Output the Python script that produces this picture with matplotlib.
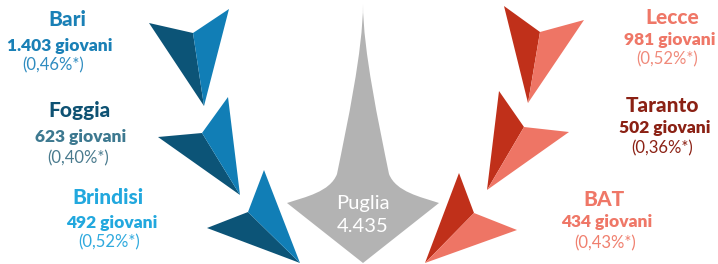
import numpy as np
import matplotlib
matplotlib.use('Agg')
import matplotlib.pyplot as plt
from matplotlib.patches import Polygon, PathPatch
from matplotlib.path import Path

# data
provinces = ['Bari', 'Foggia', 'Brindisi', 'Lecce', 'Taranto', 'BAT']
giovani = [1403, 623, 492, 981, 502, 434]
quota = [0.46, 0.40, 0.52, 0.52, 0.36, 0.43]
region = 'Puglia'
region_total = 4435

def it_int(n):
    return '{:,}'.format(n).replace(',', '.')

def it_pct(p):
    return '({:.2f}%*)'.format(p).replace('.', ',')

# layout (pixel coords, y down)
title_col = ['#1a80b6', '#0e5273', '#22a8de', '#ef7767', '#8b2114', '#ef7767']
count_col = ['#1a80b6', '#3d7990', '#22a8de', '#ef7767', '#8b2114', '#ef7767']
pct_col = ['#2f8cc0', '#4a7b8e', '#30aade', '#f08a7b', '#8b2114', '#f0806f']
title_xy = [(67, 20), (79, 111), (108, 198), (672, 18), (662, 106), (604, 200)]
count_xy = [(60, 46), (81, 137), (112, 223), (670, 40), (665, 128), (607, 222)]
pct_xy = [(53, 65), (78, 158), (109, 242), (667, 59), (662, 148), (605, 243)]

# arrows: outer tip A, inner vertex V, tip B, point tip P ; dark face A-V-P, light face V-B-P
arrows = [
    [(149, 23), (193, 33), (229, 9), (204, 106)],
    [(158, 137), (202, 133), (228, 97), (240, 195)],
    [(207, 228), (248, 212), (264, 170), (300, 263)],
    [(504, 6), (540, 32), (584, 20), (528, 103)],
    [(499, 91), (524, 127), (569, 132), (487, 190)],
    [(459, 173), (474, 213), (517, 230), (425, 263)],
]
dark = ['#0c5477', '#0c5477', '#0c5477', '#c0301a', '#c0301a', '#c0301a']
light = ['#117eb6', '#117eb6', '#117eb6', '#ee7565', '#ee7565', '#ee7565']

fig = plt.figure(figsize=(7.18, 2.64), dpi=100)
ax = fig.add_axes([0, 0, 1, 1])
ax.set_xlim(0, 718)
ax.set_ylim(264, 0)
ax.axis('off')

for i in range(len(arrows)):
    A, V, B, P = arrows[i]
    ax.add_patch(Polygon([A, V, P], closed=True, facecolor=dark[i], edgecolor='none'))
    ax.add_patch(Polygon([V, B, P], closed=True, facecolor=light[i], edgecolor='none'))

# central grey arrow
cx = 363
left = [(363, 4), (363, 50), (347, 125), (337, 174), (330, 192), (305, 197), (287, 203)]
verts = left + [(363, 263)]
codes = [Path.MOVETO, Path.CURVE4, Path.CURVE4, Path.CURVE4, Path.CURVE4, Path.CURVE4, Path.CURVE4, Path.LINETO]
right = [(2 * cx - x, y) for (x, y) in left[::-1]]
verts += right
codes += [Path.LINETO, Path.CURVE4, Path.CURVE4, Path.CURVE4, Path.CURVE4, Path.CURVE4, Path.CURVE4]
verts.append((0, 0))
codes.append(Path.CLOSEPOLY)
ax.add_patch(PathPatch(Path(verts, codes), facecolor='#b3b3b3', edgecolor='none'))

ax.text(363, 203, region, color='white', fontsize=14.5, family='Lato', weight='normal', ha='center', va='center')
ax.text(363, 227, it_int(region_total), color='white', fontsize=14.5, family='Lato', weight='normal', ha='center', va='center')

for i in range(len(provinces)):
    ax.text(title_xy[i][0], title_xy[i][1], provinces[i], color=title_col[i], fontsize=15,
            family='Lato', weight='black', ha='center', va='center')
    ax.text(count_xy[i][0], count_xy[i][1], it_int(giovani[i]) + ' giovani', color=count_col[i], fontsize=12.5,
            family='Lato', weight='heavy', ha='center', va='center')
    ax.text(pct_xy[i][0], pct_xy[i][1], it_pct(quota[i]), color=pct_col[i], fontsize=12,
            family='Lato', weight='normal', ha='center', va='center')

plt.savefig('out.png', dpi=100)
